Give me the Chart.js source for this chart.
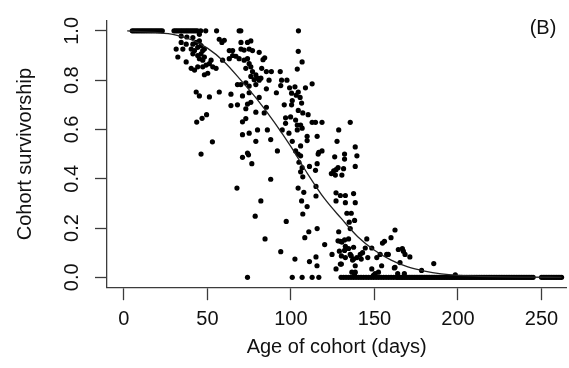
<!DOCTYPE html>
<html>
<head>
<meta charset="utf-8">
<script src="https://cdn.jsdelivr.net/npm/chart.js@4/dist/chart.umd.min.js"></script>
<style>
  html, body { margin: 0; padding: 0; background: #ffffff; }
  #wrap { width: 569px; height: 368px; position: relative; }
</style>
</head>
<body>
<div id="wrap"><canvas id="c" width="569" height="368"></canvas></div>
<script>
// ---- tick labels ----
const xTicks = [0, 50, 100, 150, 200, 250];
const yTicks = [0, 0.2, 0.4, 0.6, 0.8, 1.0];

// ---- cohorts still fully alive (survivorship = 1) ----
const plateauAges = [5, 6, 7, 8, 9, 10, 11, 12, 13, 14, 15, 16, 17, 18, 19, 20, 21, 22, 23,
  30, 31, 32, 33, 34, 35, 36, 37, 38, 39, 40, 41, 42, 43, 44, 46, 49, 55.5, 69, 70, 104.5];

// ---- cohorts fully dead (survivorship = 0) ----
const extinctAges = [74, 100.8, 106.7, 112.7, 116.7, 130, 131.5, 133, 134.5, 136, 137.5, 139,
  140.5, 142, 143.5, 145, 146.5, 148, 149.5, 151, 152.5, 154, 155.5, 157, 158.5, 160, 161.5,
  163, 164, 165, 166, 167, 168, 169, 170, 171, 172, 173, 174, 175, 176, 177, 178, 179, 180,
  181, 182, 183, 184, 185, 186, 187, 188, 189, 190, 191, 192, 193, 194, 195, 196, 197, 198,
  199, 200, 201, 202, 203, 204, 205, 206, 207, 208, 209, 210, 211, 212, 213, 214, 215, 216,
  217, 218, 219, 220, 221, 222, 223, 224, 225, 226, 227, 228, 229, 230, 231, 232, 233, 234,
  235, 236, 237, 238, 239, 240, 241, 242, 243, 244, 245, 250, 251, 252, 253, 254, 255, 256,
  257, 258, 259, 260, 261, 262];

// ---- partially surviving cohorts ----
const partialAges = [
  34.3, 37.7, 41.3, 45.2, 34.3, 37.3, 35.3, 41.3, 43.3, 45.2, 40.3, 42.3, 44.2, 46.2, 47.2, 48.2,
  41.3, 44.2, 46.2, 48.2, 57.1, 58.7, 60.1, 37.3, 31.3, 32.3,
  40.3, 42.3, 44.2, 47.2, 49.2, 51.2, 52.2, 53.2, 55.2, 48.2, 50.2, 45.2, 47.2,
  59.1, 63.1, 65.1, 67.1, 69, 63.1, 65.1, 70.1, 72, 75, 77, 70.1, 74, 76,
  72, 74, 75, 76, 73, 77, 79, 76, 78, 80, 82, 79, 75, 73, 70, 68, 85.3, 86.9,
  43.3, 45.2, 51.2, 57.1, 64.1, 71, 75, 76, 64.1, 74,
  43.6, 46.8, 49.5, 53, 46.2, 68, 73, 79, 71, 73, 80, 71, 75, 79, 74,
  71, 74.6, 76.6, 67.7, 78.6,
  81, 83.3, 84.3, 82.5, 88.3, 93.6, 81, 94.4, 97.6, 93.9, 85.3, 91.3, 99.2, 102.4, 108.7, 112.7,
  100.4, 103.2, 104.4, 105.5, 106.4, 100.8, 100.4, 96, 85.3, 104.4, 107.1, 110.3, 81, 84,
  104.4, 106.7, 103.8,
  96.8, 99.8, 112.7, 114.7, 118.6, 135.5, 96.8, 102.8, 103.8, 105.8, 94.8, 98.8, 103.8, 106.7,
  109.7, 109.7, 115.7, 128.6, 127.6, 138.5, 85.9, 87.9, 91.9, 102.8, 105.8, 100.8, 116.7, 118.6,
  104.3, 105.8, 104.8, 106.7, 105.8, 107.1, 111.1, 115.7, 114.7, 116.3,
  126.2, 132.1, 132.1, 139.5, 138.5, 124.2, 125.6, 127, 128.2, 126.6, 130.5, 131.5, 87.9,
  82, 84.5, 93.9, 97.2, 104.3, 107.7, 106.4, 109.7, 107.1, 110.7, 108.3, 115, 115, 115.7,
  127, 129.6, 132.6, 137.5, 127, 132.6, 138.5, 133.5, 136.1, 134.9, 138.1,
  128.6, 129.6, 130.5, 132.1, 134.5, 134.5, 137.5, 132.1, 120.2, 124.6, 129, 129.6, 127,
  136.1, 137.5, 138.5, 139.5, 136.5, 138.5, 142.9, 142.1, 145.4, 148.4, 146, 148.4,
  153.4, 154.8, 156, 151.4, 159.9, 162.3, 157.3, 154.3, 162.3, 102.4, 111.1, 115, 115.6,
  149.4, 150.4, 152.4, 135.5, 128.2, 132.6, 130.2, 132.6, 135.5, 141.5, 144.5, 136.9, 130.2,
  138.1, 158.3, 164.3, 166.7, 167.3, 168.3, 171.2, 165.3, 161.9, 178.2, 185.5, 198.4, 163.9, 167.9
];
const partialSurvival = [
  0.979, 0.975, 0.973, 0.986, 0.953, 0.946, 0.926, 0.946, 0.953, 0.959, 0.926, 0.920, 0.933, 0.94, 0.920, 0.926,
  0.907, 0.90, 0.907, 0.894, 0.966, 0.953, 0.962, 0.874, 0.926, 0.894,
  0.848, 0.841, 0.854, 0.854, 0.861, 0.867, 0.881, 0.854, 0.848, 0.822, 0.828, 0.887, 0.881,
  0.881, 0.887, 0.90, 0.897, 0.887, 0.92, 0.92, 0.926, 0.922, 0.926, 0.92, 0.953, 0.953, 0.959,
  0.881, 0.887, 0.867, 0.854, 0.848, 0.835, 0.822, 0.815, 0.802, 0.808, 0.808, 0.782, 0.776, 0.789, 0.782, 0.782, 0.835, 0.80,
  0.752, 0.736, 0.732, 0.752, 0.743, 0.736, 0.749, 0.71, 0.697, 0.703,
  0.63, 0.645, 0.66, 0.55, 0.50, 0.70, 0.684, 0.67, 0.631, 0.644, 0.598, 0.579, 0.585, 0.552, 0.504,
  0.487, 0.497, 0.461, 0.362, 0.248,
  0.913, 0.883, 0.891, 0.848, 0.835, 0.835, 0.80, 0.80, 0.80, 0.778, 0.765, 0.749, 0.769, 0.773, 0.769, 0.785,
  0.747, 0.739, 0.752, 0.730, 0.707, 0.717, 0.70, 0.70, 0.69, 0.677, 0.667, 0.66, 0.73, 0.667,
  0.917, 0.874, 0.845,
  0.647, 0.651, 0.629, 0.629, 0.629, 0.629, 0.625, 0.638, 0.618, 0.618, 0.598, 0.585, 0.598, 0.605,
  0.572, 0.555, 0.572, 0.598, 0.552, 0.529, 0.598, 0.559, 0.513, 0.513, 0.533, 0.552, 0.507, 0.513,
  0.50, 0.493, 0.467, 0.445, 0.428, 0.408, 0.45, 0.461, 0.434, 0.50,
  0.489, 0.50, 0.48, 0.493, 0.45, 0.421, 0.432, 0.437, 0.445, 0.415, 0.415, 0.441, 0.398,
  0.31, 0.156, 0.104, 0.227, 0.362, 0.345, 0.31, 0.287, 0.257, 0.185, 0.161, 0.369, 0.33, 0.198,
  0.343, 0.332, 0.332, 0.34, 0.31, 0.303, 0.303, 0.26, 0.26, 0.224, 0.231,
  0.185, 0.146, 0.143, 0.152, 0.156, 0.117, 0.122, 0.109, 0.133, 0.093, 0.106, 0.054, 0.034,
  0.087, 0.074, 0.047, 0.08, 0.021, 0.021, 0.1, 0.074, 0.156, 0.119, 0.08, 0.034,
  0.093, 0.139, 0.146, 0.08, 0.161, 0.192, 0.093, 0.047, 0.041, 0.074, 0.064, 0.083, 0.047,
  0.008, 0.015, 0.021, 0.198, 0.148, 0.126, 0.087, 0.08, 0.093, 0.093, 0.119, 0.07, 0.054,
  0.015, 0.093, 0.113, 0.117, 0.106, 0.093, 0.083, 0.06, 0.038, 0.028, 0.056, 0.01, 0.015, 0.015
];

// ---- fitted survivorship curve ----
const curveAges = [2, 10, 20, 30, 40, 50, 60, 70, 80, 90, 100, 110, 120, 130, 140, 150, 160, 170, 180, 190, 200, 220, 240, 262];
const curveSurvival = [1.0, 0.997, 0.993, 0.985, 0.965, 0.93, 0.875, 0.80, 0.72, 0.63, 0.53, 0.42, 0.32, 0.24, 0.165, 0.11, 0.07, 0.042, 0.025, 0.014, 0.008, 0.003, 0.001, 0.0];

// ---- build library data ----
const pointData = [];
plateauAges.forEach(a => pointData.push({ x: a, y: 1 }));
partialAges.forEach((a, i) => pointData.push({ x: a, y: partialSurvival[i] }));
extinctAges.forEach(a => pointData.push({ x: a, y: 0 }));
const curveData = curveAges.map((a, i) => ({ x: a, y: curveSurvival[i] }));

const FONT = "'Liberation Sans', Arial, Helvetica, sans-serif";
const AXIS = '#3c3c3c';
const TEXT = '#111111';
Chart.defaults.font.family = FONT;
Chart.defaults.color = TEXT;

const panelLabel = {
  id: 'panelLabel',
  afterDraw(chart) {
    const ctx = chart.ctx;
    ctx.save();
    ctx.font = '20px ' + FONT;
    ctx.fillStyle = TEXT;
    ctx.textAlign = 'center';
    ctx.textBaseline = 'middle';
    ctx.fillText('(B)', 543, 28);
    ctx.restore();
  }
};

new Chart(document.getElementById('c'), {
  type: 'scatter',
  data: {
    datasets: [
      {
        type: 'line',
        label: 'fit',
        data: curveData,
        borderColor: '#222222',
        borderWidth: 1.3,
        pointRadius: 0,
        fill: false,
        cubicInterpolationMode: 'monotone',
        showLine: true
      },
      {
        label: 'cohorts',
        data: pointData,
        backgroundColor: '#000000',
        borderWidth: 0,
        pointRadius: 2.6,
        pointHoverRadius: 2.6
      }
    ]
  },
  options: {
    responsive: false,
    animation: false,
    events: [],
    layout: { padding: { top: 13.8, right: 0, bottom: 0, left: 0 } },
    plugins: { legend: { display: false }, tooltip: { enabled: false } },
    scales: {
      x: {
        type: 'linear',
        min: -10.1,
        max: 264.9,
        afterBuildTicks: s => { s.ticks = xTicks.map(v => ({ value: v })); },
        afterFit: s => { s.height = 80.8; },
        grid: { drawOnChartArea: false, drawTicks: true, tickLength: 13, tickColor: AXIS, tickWidth: 1.3 },
        border: { display: true, color: AXIS, width: 1.3 },
        ticks: { color: TEXT, font: { size: 20 }, padding: 7, maxRotation: 0, minRotation: 0,
                 callback: v => String(v) },
        title: { display: true, text: 'Age of cohort (days)', color: TEXT, font: { size: 20 },
                 padding: { top: 0, bottom: 9 } }
      },
      y: {
        type: 'linear',
        min: -0.04,
        max: 1.04,
        afterBuildTicks: s => { s.ticks = yTicks.map(v => ({ value: v })); },
        afterFit: s => { s.width = 107; },
        grid: { drawOnChartArea: false, drawTicks: true, tickLength: 12, tickColor: AXIS, tickWidth: 1.3 },
        border: { display: true, color: AXIS, width: 1.3 },
        ticks: { color: TEXT, font: { size: 20 }, padding: 9, minRotation: 90, maxRotation: 90,
                 crossAlign: 'center', callback: v => Number(v).toFixed(1) },
        title: { display: true, text: 'Cohort survivorship', color: TEXT, font: { size: 20 },
                 padding: { top: 13, bottom: 0 } }
      }
    }
  },
  plugins: [panelLabel]
});
</script>
</body>
</html>
